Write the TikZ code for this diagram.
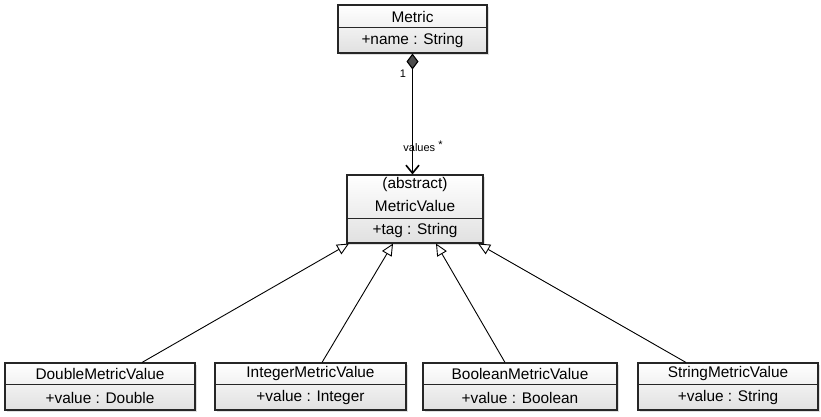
\documentclass[tikz,border=0pt]{standalone}
\usepackage{fontspec}
\setmainfont{Liberation Sans}
\usetikzlibrary{arrows.meta,calc,shadows}
\begin{document}
\begin{tikzpicture}[x=1pt,y=-1pt,
  cls/.style={draw=black!85, line width=1.1pt, top color=white, bottom color=black!12,
    inner sep=0pt, drop shadow={shadow xshift=2pt, shadow yshift=-2pt, opacity=0.25}},
  txt/.style={font=\fontsize{15.4}{17}\selectfont, inner sep=0pt},
  lbl/.style={font=\fontsize{11}{13}\selectfont, inner sep=0pt},
  divider/.style={draw=black!85, line width=1pt},
  comp/.style={line width=1.1pt, {Diamond[fill=black!70, length=16pt, width=12pt]}-{Straight Barb[length=8pt, width=13pt, line width=1.6pt]}},
  inh/.style={line width=0.9pt, -{Triangle[open, fill=white, length=12pt, width=11pt, line width=0.9pt]}}
]
\useasboundingbox (0,0) rectangle (821,416);

% Metric
\node[cls, minimum width=149, minimum height=48] (metric) at (412.5,29) {};
\draw[divider] ([yshift=-23]metric.north west) -- ([yshift=-23]metric.north east);
\node[txt] (metricname) at (412.5,16.5) {Metric};
\node[txt] (metricattr) at (412.5,41) {+name : String};

% MetricValue
\node[cls, minimum width=136, minimum height=68] (mv) at (415,209) {};
\draw[divider] ([yshift=-44]mv.north west) -- ([yshift=-44]mv.north east);
\node[txt] (mvstereo) at (415,185) {(abstract)};
\node[txt] (mvname) at (415,206) {MetricValue};
\node[txt] (mvattr) at (415,231) {+tag : String};

% Subclasses
\node[cls, minimum width=190, minimum height=47] (dbl) at (100,386.5) {};
\node[cls, minimum width=191, minimum height=47] (int) at (310.5,386.5) {};
\node[cls, minimum width=194, minimum height=47] (bool) at (520,386.5) {};
\node[cls, minimum width=180, minimum height=47] (str) at (728,386.5) {};
\foreach \n in {dbl,int,bool,str}{
  \draw[divider] ([yshift=-22]\n.north west) -- ([yshift=-22]\n.north east);
}
\node[txt] (dblname) at (100,374) {DoubleMetricValue};
\node[txt] (dblattr) at (100,398) {+value : Double};
\node[txt] (intname) at (310.5,374) {IntegerMetricValue};
\node[txt] (intattr) at (310.5,398) {+value : Integer};
\node[txt] (boolname) at (520,374) {BooleanMetricValue};
\node[txt] (boolattr) at (520,398) {+value : Boolean};
\node[txt] (strname) at (728,374) {StringMetricValue};
\node[txt] (strattr) at (728,398) {+value : String};

% Composition
\draw[comp] (metric.south) -- (metric.south |- mv.north);
\node[lbl] (one) at (403,74) {1};
\node[lbl] (vals) at (423,146) {values \raisebox{3pt}{*}};

% Inheritance
\draw[inh] ([xshift=42]dbl.north) -- ([xshift=-66]mv.south);
\draw[inh] ([xshift=11.5]int.north) -- ([xshift=-22]mv.south);
\draw[inh] ([xshift=-15]bool.north) -- ([xshift=21]mv.south);
\draw[inh] ([xshift=-42]str.north) -- ([xshift=63]mv.south);
\end{tikzpicture}
\end{document}
